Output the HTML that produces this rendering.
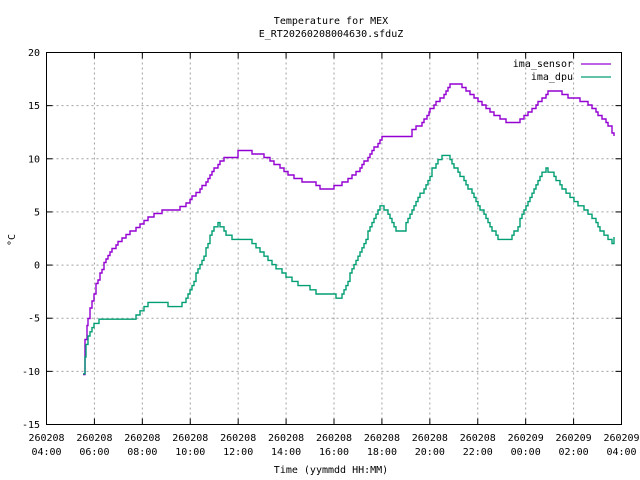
<!DOCTYPE html>
<html><head><meta charset="utf-8"><style>
html,body{margin:0;padding:0;background:#fff;}
svg{display:block;font-family:"DejaVu Sans Mono","Liberation Mono",monospace;font-size:10px;}
</style></head><body>
<svg id="s" width="640" height="480" xmlns="http://www.w3.org/2000/svg">
<rect width="640" height="480" fill="#fff"/>
<g id="grid" stroke="#a0a0a0" stroke-width="1" stroke-dasharray="2,3"></g>
<g id="ticks" stroke="#000" stroke-width="1"></g>
<g id="lbl" fill="#000"></g>
<text x="331" y="24" text-anchor="middle">Temperature for MEX</text>
<text x="331" y="37" text-anchor="middle">E_RT20260208004630.sfduZ</text>
<text x="331" y="473" text-anchor="middle">Time (yymmdd HH:MM)</text>
<text transform="translate(15,240) rotate(-90)" text-anchor="middle">°C</text>
<text x="573" y="67" text-anchor="end">ima_sensor</text>
<text x="573" y="80" text-anchor="end">ima_dpu</text>
<line x1="581" y1="64" x2="611" y2="64" stroke="#9400d3" stroke-width="1.3"/>
<line x1="581" y1="77" x2="611" y2="77" stroke="#009e73" stroke-width="1.3"/>
<polyline id="p1" fill="none" stroke="#9400d3" stroke-width="1.4"/>
<polyline id="p2" fill="none" stroke="#009e73" stroke-width="1.4"/>
<rect x="46.5" y="52.5" width="575" height="372" fill="none" stroke="#000" stroke-width="1"/>
</svg>
<script>
var L=46.5,R=621.5,T=52.5,B=424.5,ns="http://www.w3.org/2000/svg";
function el(p,n,a,t){var e=document.createElementNS(ns,n);for(var k in a)e.setAttribute(k,a[k]);if(t!=null)e.textContent=t;document.getElementById(p).appendChild(e);}
var hrs=["04:00","06:00","08:00","10:00","12:00","14:00","16:00","18:00","20:00","22:00","00:00","02:00","04:00"];
for(var i=0;i<=12;i++){var x=L+(R-L)*i/12;
 if(i>0&&i<12)el("grid","line",{x1:x,y1:T,x2:x,y2:B});
 el("ticks","line",{x1:x,y1:B,x2:x,y2:B-6});el("ticks","line",{x1:x,y1:T,x2:x,y2:T+6});
 var d=i>=10?"260209":"260208";
 el("lbl","text",{x:x,y:441,"text-anchor":"middle"},d);
 el("lbl","text",{x:x,y:455,"text-anchor":"middle"},hrs[i]);}
for(var j=0;j<=7;j++){var v=20-5*j,y=T+(B-T)*j/7;
 if(j>0&&j<7)el("grid","line",{x1:L,y1:y,x2:R,y2:y});
 el("ticks","line",{x1:L,y1:y,x2:L+6,y2:y});el("ticks","line",{x1:R,y1:y,x2:R-6,y2:y});
 el("lbl","text",{x:40,y:y+3.5,"text-anchor":"end"},String(v));}
function step(pts,q,dx){var out=[],py=null;
 for(var i=0;i<pts.length-1;i++){var a=pts[i],b=pts[i+1];
  for(var x=a[0];x<b[0];x+=dx){var y=a[1]+(b[1]-a[1])*(x-a[0])/(b[0]-a[0]);y=Math.round(y/q)*q;
   if(py===null)out.push(x+","+y);else if(y!==py){out.push(x+","+py);out.push(x+","+y);}py=y;}}
 var l=pts[pts.length-1];out.push(l[0]+","+py);out.push(l[0]+","+l[1]);return out.join(" ");}
var s=[[83,375],[85,340],[88,318],[92,300],[96,285],[100,272],[106,260],[112,250],[118,243],[124,237],[130,232],[136,228],[142,224],[148,218],[154,214],[160,212],[172,209],[178,209],[184,206],[190,199],[196,194],[202,187],[208,179],[214,169],[220,161],[226,156],[236,156],[238,150],[250,150],[252,155],[262,155],[268,159],[274,163],[282,169],[290,175],[300,180],[314,182],[316,187],[330,188],[344,183],[356,173],[366,160],[374,148],[380,140],[384,136],[410,136],[412,130],[420,125],[425,118],[430,110],[436,103],[444,95],[450,85],[456,83],[462,87],[472,95],[482,104],[494,115],[504,120],[512,123],[520,120],[528,112],[536,105],[544,97],[548,92],[560,92],[566,96],[580,100],[588,104],[596,112],[604,120],[610,127],[614,136]];
var d=[[83,375],[86,345],[90,330],[95,322],[100,321],[130,321],[136,317],[142,310],[148,302],[166,302],[170,307],[180,307],[186,297],[192,285],[198,270],[204,255],[210,237],[214,227],[218,224],[222,227],[226,234],[232,238],[246,238],[252,242],[258,249],[264,256],[270,262],[276,267],[284,274],[292,280],[300,285],[314,289],[316,292],[326,292],[336,297],[340,297],[346,285],[354,265],[362,247],[372,223],[378,208],[382,206],[386,212],[392,224],[396,229],[404,229],[410,216],[418,199],[426,184],[432,170],[438,160],[442,155],[448,155],[454,166],[462,178],[470,191],[478,205],[486,218],[494,233],[498,238],[510,238],[516,230],[522,215],[528,201],[534,187],[540,176],[546,170],[550,171],[556,180],[564,190],[570,197],[578,204],[586,210],[594,220],[600,229],[606,236],[612,243],[614,237]];
document.getElementById("p1").setAttribute("points",step(s,3.5,2));
document.getElementById("p2").setAttribute("points",step(d,4.2,2));
</script>
</body></html>
